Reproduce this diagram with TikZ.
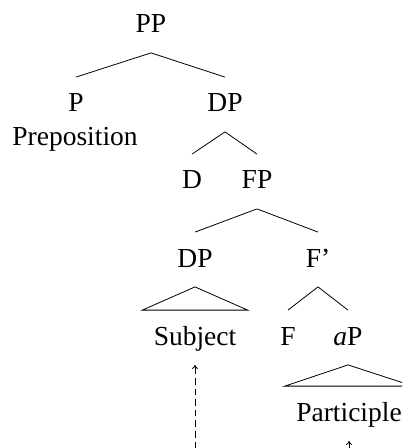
\documentclass[tikz,border=0pt]{standalone}
\usepackage{fontspec}
\setmainfont{Liberation Serif}
\usepackage{tikz}
\usetikzlibrary{arrows.meta}

\tikzset{
  lbl/.style={anchor=base, inner xsep=0pt, inner ysep=8.25pt,
              text height=9pt, text depth=1.5pt},
  leaf/.style={lbl, inner xsep=5.5pt},
  move/.style={dash pattern=on 3.3pt off 2pt, -{To[length=2pt,width=3pt]}}
}

\begin{document}
\begin{tikzpicture}[x=0.5pt, y=-0.5pt, font=\fontsize{13.75}{16}\selectfont]
  \useasboundingbox (0,0) rectangle (402,448);
  \clip (0,0) rectangle (402,448);
  % labels of the tree
  \foreach \n/\t/\x/\y in {PP/PP/151/33, P/P/76/112, DPa/DP/225/112,
                           D/D/192/189, FP/FP/257/189,
                           DPb/DP/195/267, Fbar/F'/318/267,
                           F/F/288/345, aP/\textit{a}P/348/345}{
    \node[lbl] (\n) at (\x,\y) {\t};}
  \node[lbl] (prep) at (75,146) {Preposition};
  \node[leaf] (subj) at (195,345) {Subject};
  \node[leaf] (part) at (349,421) {Participle};
  % branches
  \foreach \a/\b in {PP/P, PP/DPa, DPa/D, DPa/FP, FP/DPb, FP/Fbar, Fbar/F, Fbar/aP}
    \draw (\a.south) -- (\b.north);
  \draw (DPb.south) -- (subj.north west) -- (subj.north east) -- cycle;
  \draw (aP.south) -- (part.north west) -- (part.north east) -- cycle;
  % movement
  \coordinate (s0) at (195,480);
  \coordinate (p0) at (349,480);
  \draw[move] (s0) -- (subj.south);
  \draw[move] (p0) -- (part.south);
\end{tikzpicture}
\end{document}
